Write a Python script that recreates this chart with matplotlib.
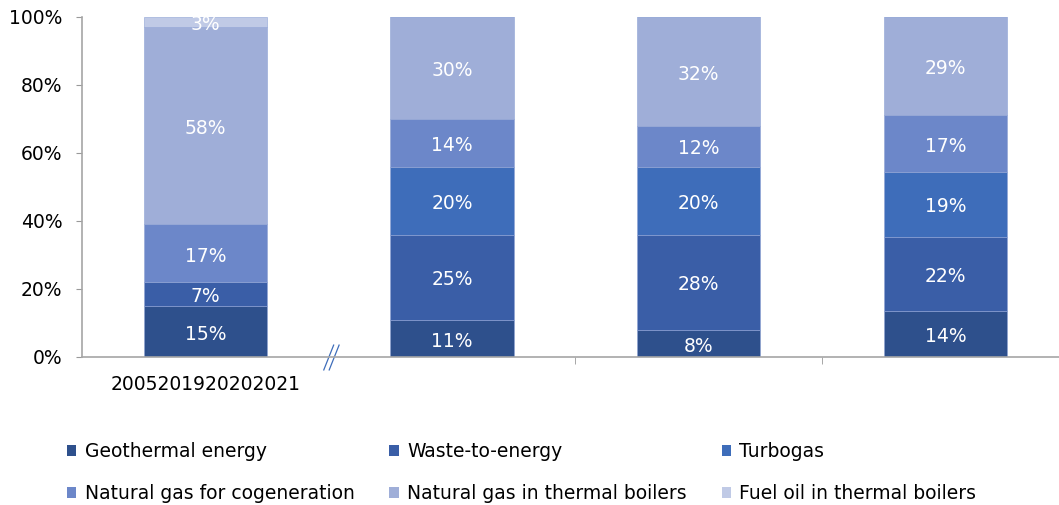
import matplotlib.pyplot as plt
from matplotlib.patches import Patch
import numpy as np

plt.rcParams['font.family'] = ['DejaVu Sans']
plt.rcParams['font.size'] = 13.5

# data
years = ["2005", "2019", "2020", "2021"]
series = ["Geothermal energy", "Waste-to-energy", "Turbogas",
          "Natural gas for cogeneration", "Natural gas in thermal boilers",
          "Fuel oil in thermal boilers"]
geothermal = [15, 11, 8, 13.6]
waste = [7, 25, 28, 21.8]
turbogas = [0, 20, 20, 19.1]
cogeneration = [17, 14, 12, 16.6]
thermal_boilers = [58, 30, 32, 28.9]
fuel_oil = [3, 0, 0, 0]
colors = ["#2e508c", "#3a5ea7", "#3e6dba", "#6c87c9", "#9faed8", "#c0cae6"]

values = [geothermal, waste, turbogas, cogeneration, thermal_boilers, fuel_oil]

fig = plt.figure(figsize=(10.59, 5.05), dpi=100)
ax = fig.add_axes([82 / 1059, 1 - 357 / 505, 1 - 82 / 1059, 340 / 505])

x = np.arange(len(years))
bottom = np.zeros(len(years))
for name, vals, col in zip(series, values, colors):
    vals = np.array(vals, dtype=float)
    ax.bar(x, vals, 0.5, bottom=bottom, color=col, label=name,
           edgecolor="#8ea2d4", linewidth=0.4)
    for xi, b, v in zip(x, bottom, vals):
        if v > 0:
            ax.text(xi, b + v / 2 - 0.8, f"{v:.0f}%", ha="center", va="center",
                    color="white")
    bottom += vals

ax.set_xlim(-0.5, 3.46)
ax.set_ylim(0, 100)
ax.set_yticks(range(0, 101, 20))
ax.set_yticklabels([f"{t}%" for t in range(0, 101, 20)])

# all year labels end up crammed under the first bar in the original
ax.set_xticks([0])
ax.set_xticklabels(["".join(years)])
ax.tick_params(axis="x", which="major", length=0, pad=13)
ax.set_xticks([1.5, 2.5], minor=True)
ax.tick_params(axis="x", which="minor", length=5, color="#999999")
ax.tick_params(axis="y", length=4, color="#999999", pad=10)

for s in ["top", "right"]:
    ax.spines[s].set_visible(False)
for s in ["left", "bottom"]:
    ax.spines[s].set_color("#a6a6a6")
    ax.spines[s].set_linewidth(1.2)

# axis break mark
for dx in [0, 0.022]:
    ax.plot([0.5 - 0.02 + dx, 0.5 + 0.02 + dx], [-3.8, 3.5], color="#3e6dba",
            lw=0.9, clip_on=False)

handles = [Patch(facecolor=c, label=n) for n, c in zip(series, colors)]
order = [0, 3, 1, 4, 2, 5]
fig.legend([handles[i] for i in order], [series[i] for i in order],
           ncol=3, loc="upper left", bbox_to_anchor=(67 / 1059, 1 - 442 / 505),
           frameon=False, handlelength=0.5, handleheight=0.5, handletextpad=0.45,
           columnspacing=1.85, labelspacing=1.25, borderpad=0, borderaxespad=0)

fig.savefig("out.png", dpi=100)
